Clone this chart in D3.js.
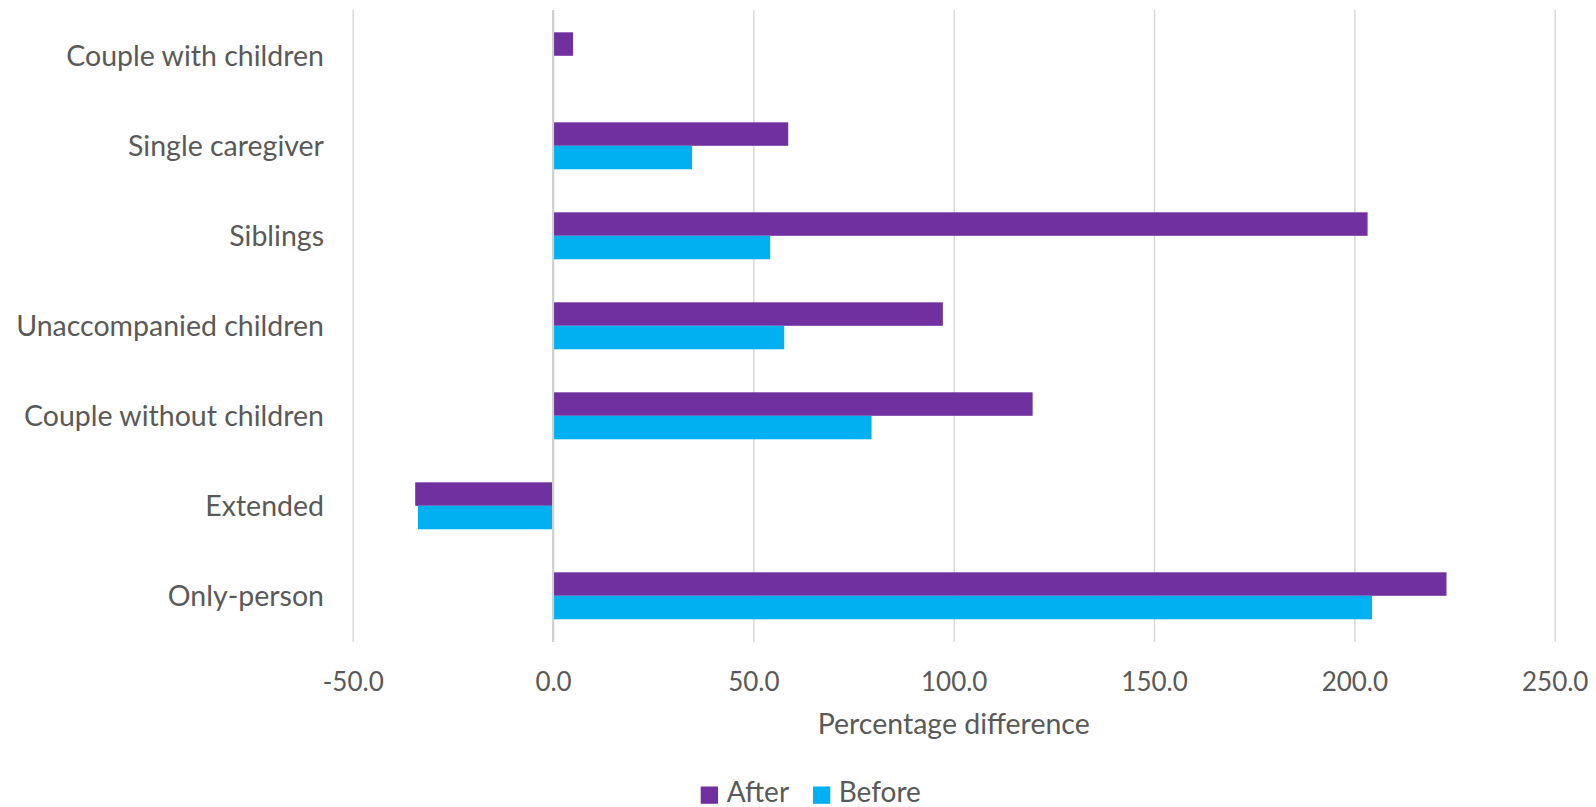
<!DOCTYPE html>
<html>
<head>
<meta charset="utf-8">
<script src="https://cdn.jsdelivr.net/npm/d3@7"></script>
<style>
  html, body { margin: 0; padding: 0; background: #ffffff; }
  svg { display: block; }
  text { font-family: Lato, "Open Sans", sans-serif; fill: #595959; }
</style>
</head>
<body>
<svg id="chart" width="1596" height="807"></svg>
<script>
// Household types, listed top to bottom
const categories = [
  "Couple with children",
  "Single caregiver",
  "Siblings",
  "Unaccompanied children",
  "Couple without children",
  "Extended",
  "Only-person"
];
const seriesNames = ["After", "Before"];
// Percentage difference per household type
const afterValues  = [5.0, 58.7, 203.3, 97.3, 119.7, -34.4, 223.0];
const beforeValues = [null, 34.7, 54.2, 57.7, 79.5, -33.7, 204.4];
const tickValues = [-50, 0, 50, 100, 150, 200, 250];
const axisTitle = "Percentage difference";

const colors = { After: "#7030A0", Before: "#00B0F0" };

const rows = categories.map((c, i) => ({
  category: c,
  values: [
    { series: "After", value: afterValues[i] },
    { series: "Before", value: beforeValues[i] }
  ]
}));

// Plain hyphen for negative numbers
const locale = d3.formatLocale({ decimal: ".", thousands: ",", grouping: [3], currency: ["$", ""], minus: "-" });
const tickFormat = locale.format(".1f");

const svg = d3.select("#chart");

const x = d3.scaleLinear().domain([-50, 250]).range([352.7, 1554.7]);
const y = d3.scaleBand().domain(categories).range([10.8, 640.8]).paddingInner(0.478).paddingOuter(0.239);
const ySub = d3.scaleBand().domain(seriesNames).range([0, y.bandwidth()]);

// Vertical gridlines
const grid = svg.append("g")
  .attr("transform", "translate(0,642)")
  .call(d3.axisBottom(x).tickValues(tickValues).tickSize(-632).tickFormat(""));
grid.select(".domain").remove();
grid.selectAll(".tick line").attr("stroke", "#D9D9D9").attr("stroke-width", 1.5);

// Bars
const groups = svg.append("g").selectAll("g")
  .data(rows).join("g")
  .attr("transform", d => `translate(0,${y(d.category)})`);

groups.selectAll("rect")
  .data(d => d.values.filter(v => v.value !== null))
  .join("rect")
  .attr("x", d => x(Math.min(0, d.value)) + (d.value >= 0 ? 1 : 0))
  .attr("y", d => ySub(d.series))
  .attr("width", d => Math.abs(x(d.value) - x(0)) - (d.value >= 0 ? 1 : 0.5))
  .attr("height", ySub.bandwidth())
  .attr("fill", d => colors[d.series]);

// Zero line drawn over the bars' base
svg.append("line")
  .attr("x1", x(0)).attr("x2", x(0))
  .attr("y1", 10).attr("y2", 642)
  .attr("stroke", "#D0D0D0").attr("stroke-width", 2);

// X axis labels
const xAxis = svg.append("g")
  .attr("transform", "translate(0,690.7)")
  .call(d3.axisBottom(x).tickValues(tickValues).tickSize(0).tickPadding(0).tickFormat(tickFormat));
xAxis.select(".domain").remove();
xAxis.selectAll("text")
  .attr("dy", 0)
  .attr("y", 0)
  .style("font-family", "Lato, 'Open Sans', sans-serif")
  .style("font-size", "26px")
  .attr("fill", "#595959");

// Category labels
const yAxis = svg.append("g")
  .attr("transform", "translate(324,0)")
  .call(d3.axisLeft(y).tickSize(0).tickPadding(0));
yAxis.select(".domain").remove();
yAxis.selectAll("text")
  .attr("dy", "0.35em")
  .style("font-family", "Lato, 'Open Sans', sans-serif")
  .style("font-size", "28.5px")
  .attr("fill", "#595959");

// Axis title
svg.append("text")
  .attr("x", (x(-50) + x(250)) / 2)
  .attr("y", 734)
  .attr("text-anchor", "middle")
  .style("font-size", "28.5px")
  .text(axisTitle);

// Legend
const legend = svg.append("g");
const legendItems = [
  { name: "After", sx: 700.7, tx: 726.7 },
  { name: "Before", sx: 813, tx: 838.7 }
];
legend.selectAll("rect")
  .data(legendItems).join("rect")
  .attr("x", d => d.sx).attr("y", 786.5)
  .attr("width", 17.3).attr("height", 17.3)
  .attr("fill", d => colors[d.name]);
legend.selectAll("text")
  .data(legendItems).join("text")
  .attr("x", d => d.tx).attr("y", 801.5)
  .style("font-size", "28px")
  .text(d => d.name);
</script>
</body>
</html>
